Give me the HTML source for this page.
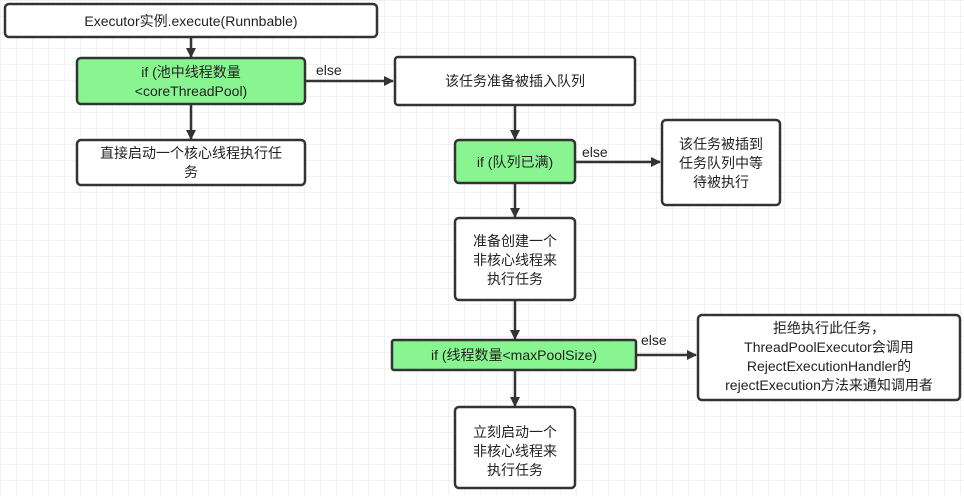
<!DOCTYPE html>
<html><head><meta charset="utf-8"><style>
html,body{margin:0;padding:0;background:#fff;}
svg text{font-family:"Liberation Sans","Noto Sans CJK SC",sans-serif;font-size:14px;fill:#222;}
</style></head><body>
<svg width="964" height="495" xmlns="http://www.w3.org/2000/svg">
<defs>
<pattern id="g" width="16" height="16" patternUnits="userSpaceOnUse">
<path d="M16 0H0V16" fill="none" stroke="#e6e6e6" stroke-width="1"/>
</pattern>
<marker id="a" markerWidth="10" markerHeight="10" refX="9" refY="5" orient="auto" markerUnits="userSpaceOnUse">
<path d="M0,0 L10,5 L0,10 z" fill="#333"/>
</marker>
</defs>
<rect width="964" height="495" fill="url(#g)"/>
<g stroke="#333" stroke-width="2.5" fill="none" marker-end="url(#a)">
<line x1="191" y1="38" x2="191" y2="57"/>
<line x1="191" y1="105" x2="191" y2="139"/>
<line x1="305" y1="81" x2="393" y2="81"/>
<line x1="515" y1="106" x2="515" y2="139"/>
<line x1="576" y1="162" x2="660" y2="162"/>
<line x1="515" y1="184" x2="515" y2="217"/>
<line x1="515" y1="301" x2="515" y2="339"/>
<line x1="637" y1="355" x2="696" y2="355"/>
<line x1="515" y1="371" x2="515" y2="406"/>
</g>
<g stroke="#333" stroke-width="2.5">
<rect x="5" y="4" width="372" height="33" rx="4" fill="#fff"/>
<rect x="77" y="58" width="228" height="46" rx="4" fill="#88f590"/>
<rect x="77" y="140" width="228" height="45" rx="4" fill="#fff"/>
<rect x="395" y="57" width="240" height="48" rx="3" fill="#fff"/>
<rect x="455" y="140" width="120" height="43" rx="4" fill="#88f590"/>
<rect x="662" y="120" width="118" height="85" rx="4" fill="#fff"/>
<rect x="455" y="218" width="120" height="82" rx="4" fill="#fff"/>
<rect x="392" y="340" width="244" height="30" rx="2" fill="#88f590"/>
<rect x="698" y="315" width="262" height="85" rx="4" fill="#fff"/>
<rect x="455" y="407" width="120" height="81" rx="4" fill="#fff"/>
</g>
<g text-anchor="middle">
<text x="191" y="26">Executor实例.execute(Runnbable)</text>
<text x="191" y="77">if  (池中线程数量</text>
<text x="191" y="96">&lt;coreThreadPool)</text>
<text x="191" y="158">直接启动一个核心线程执行任</text>
<text x="191" y="177">务</text>
<text x="515" y="86">该任务准备被插入队列</text>
<text x="515" y="167">if (队列已满)</text>
<text x="721" y="149">该任务被插到</text>
<text x="721" y="168">任务队列中等</text>
<text x="721" y="187">待被执行</text>
<text x="515" y="246">准备创建一个</text>
<text x="515" y="265">非核心线程来</text>
<text x="515" y="284">执行任务</text>
<text x="514" y="360">if (线程数量&lt;maxPoolSize)</text>
<text x="829" y="333">拒绝执行此任务，</text>
<text x="829" y="352">ThreadPoolExecutor会调用</text>
<text x="829" y="371">RejectExecutionHandler的</text>
<text x="829" y="390">rejectExecution方法来通知调用者</text>
<text x="515" y="437">立刻启动一个</text>
<text x="515" y="456">非核心线程来</text>
<text x="515" y="475">执行任务</text>
</g>
<text x="316" y="75">else</text>
<text x="582" y="157">else</text>
<text x="641" y="345">else</text>
</svg>
</body></html>
